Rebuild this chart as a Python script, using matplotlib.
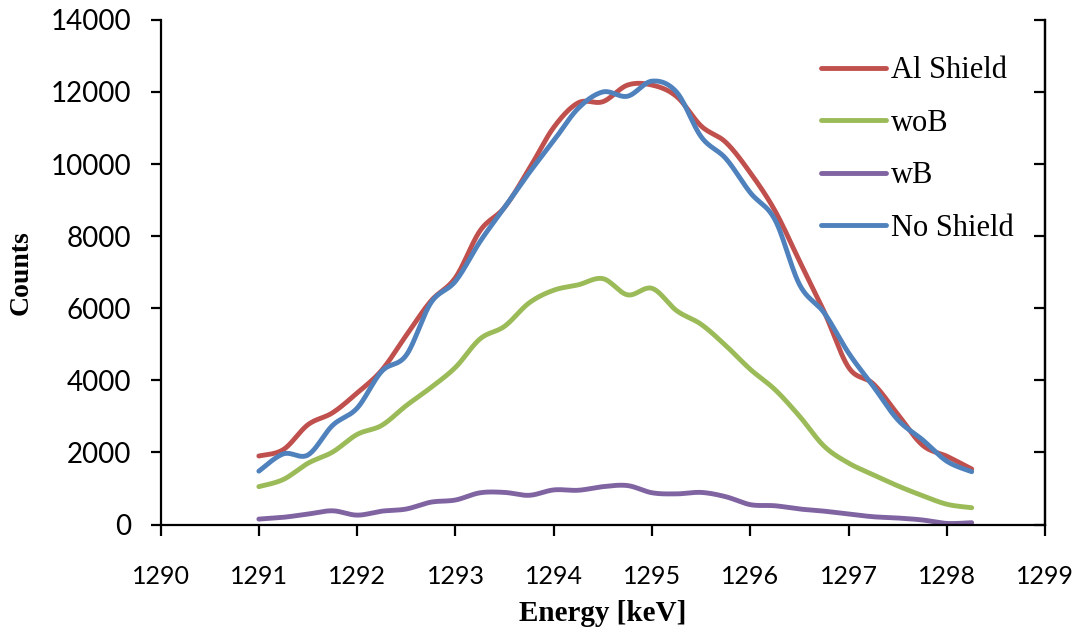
import numpy as np
import matplotlib
matplotlib.use("Agg")
import matplotlib.pyplot as plt

# ---- data ----
energy = [1291.00, 1291.25, 1291.50, 1291.75, 1292.00, 1292.25, 1292.50, 1292.75,
          1293.00, 1293.25, 1293.50, 1293.75, 1294.00, 1294.25, 1294.50, 1294.75,
          1295.00, 1295.25, 1295.50, 1295.75, 1296.00, 1296.25, 1296.50, 1296.75,
          1297.00, 1297.25, 1297.50, 1297.75, 1298.00, 1298.25]

al_shield = [1900, 2080, 2770, 3100, 3650, 4280, 5250, 6200,
             6850, 8150, 8800, 9870, 11020, 11700, 11730, 12190,
             12190, 11870, 11050, 10600, 9750, 8700, 7300, 5900,
             4350, 3900, 3050, 2200, 1890, 1540]

wob = [1050, 1250, 1700, 2010, 2500, 2750, 3300, 3800,
       4360, 5150, 5500, 6150, 6500, 6650, 6820, 6370,
       6550, 5930, 5550, 4960, 4300, 3740, 3000, 2170,
       1700, 1380, 1070, 800, 560, 466]

wb = [150, 200, 290, 380, 260, 370, 430, 620,
      680, 880, 890, 810, 960, 950, 1050, 1080,
      880, 850, 890, 770, 550, 520, 430, 370,
      290, 215, 180, 125, 30, 50]

no_shield = [1480, 1960, 1930, 2750, 3230, 4250, 4700, 6150,
             6750, 7850, 8800, 9760, 10650, 11550, 12000, 11880,
             12300, 11990, 10750, 10150, 9200, 8450, 6650, 5870,
             4750, 3830, 2900, 2350, 1750, 1465]

series_names = ["Al Shield", "woB", "wB", "No Shield"]
series_colors = ["#C0504D", "#9BBB59", "#8064A2", "#4F81BD"]

x_ticks = [1290, 1291, 1292, 1293, 1294, 1295, 1296, 1297, 1298, 1299]
y_ticks = [0, 2000, 4000, 6000, 8000, 10000, 12000, 14000]


def smooth(x, y, n=24):
    """Excel-style smoothed line (Catmull-Rom Bezier) through the data points."""
    P = np.column_stack([np.asarray(x, float), np.asarray(y, float)])
    out = []
    t = np.linspace(0, 1, n, endpoint=False)[:, None]
    for i in range(len(P) - 1):
        p0 = P[i - 1] if i > 0 else P[i]
        p1 = P[i]
        p2 = P[i + 1]
        p3 = P[i + 2] if i + 2 < len(P) else P[i + 1]
        c1 = p1 + (p2 - p0) / 6.0
        c2 = p2 - (p3 - p1) / 6.0
        seg = ((1 - t) ** 3) * p1 + 3 * ((1 - t) ** 2) * t * c1 + 3 * (1 - t) * t ** 2 * c2 + t ** 3 * p2
        out.append(seg)
    out.append(P[-1][None, :])
    pts = np.vstack(out)
    return pts[:, 0], pts[:, 1]


fig = plt.figure(figsize=(10.81, 6.33), dpi=100)
ax = fig.add_axes([0.1485, 0.1714, 0.8186, 0.7973])

for vals, name, col in zip([al_shield, wob, wb, no_shield], series_names, series_colors):
    sx, sy = smooth(energy, vals)
    ax.plot(sx, sy, color=col, lw=3.5, label=name, solid_capstyle="round",
            solid_joinstyle="round")

ax.set_xlim(1290, 1299)
ax.set_ylim(0, 14000)
ax.set_xticks(x_ticks)
ax.set_yticks(y_ticks)
ax.set_xticklabels([str(v) for v in x_ticks], fontfamily="Lato", fontsize=18)
ax.set_yticklabels([str(v) for v in y_ticks], fontfamily="Lato", fontsize=20)

ax.spines["top"].set_visible(False)
for s in ["left", "right", "bottom"]:
    ax.spines[s].set_linewidth(1.6)
    ax.spines[s].set_color("black")

ax.tick_params(axis="x", direction="out", length=8, width=1.6, pad=21)
ax.tick_params(axis="y", left=True, right=False, labelright=False,
               direction="out", length=7, width=1.6, pad=14)

# right-side ticks pointing inward
ax2 = ax.secondary_yaxis("right")
ax2.set_yticks(y_ticks)
ax2.tick_params(direction="in", length=8, width=1.6, labelright=False)
ax2.spines["right"].set_linewidth(1.6)

ax.set_xlabel("Energy [keV]", fontfamily="Liberation Serif", fontweight="bold",
              fontsize=21, labelpad=9)
ax.set_ylabel("Counts", fontfamily="Liberation Serif", fontweight="bold",
              fontsize=20, labelpad=12)

leg = ax.legend(loc="upper left", bbox_to_anchor=(0.733, 0.952), frameon=False,
                prop={"family": "Liberation Serif", "size": 22},
                handlelength=2.12, handletextpad=0.16, labelspacing=0.77,
                borderaxespad=0.0)

fig.savefig("out.png", dpi=100)
